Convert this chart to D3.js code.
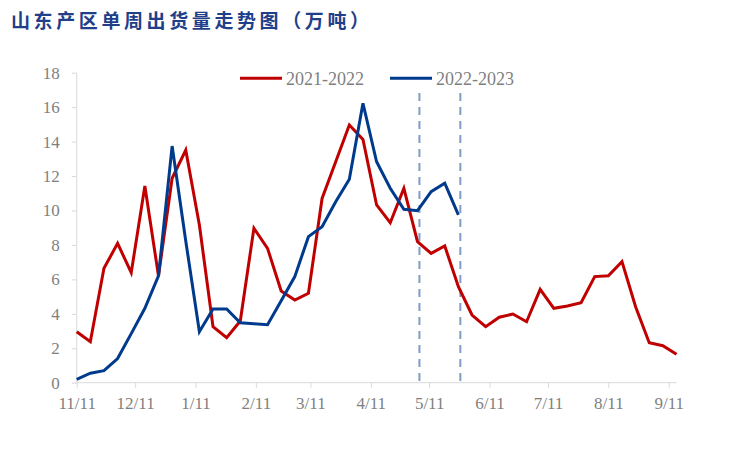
<!DOCTYPE html>
<html><head><meta charset="utf-8">
<script src="https://cdn.jsdelivr.net/npm/d3@7/dist/d3.min.js"></script>
<style>body{margin:0;background:#fff}svg{display:block}</style>
</head><body><svg id="c" width="751" height="451"></svg>
<script>
const title = "山东产区单周出货量走势图（万吨）";
const seriesNames = ["2021-2022", "2022-2023"];
const startDate = "2021-11-11";
const xTickLabels = ["11/11","12/11","1/11","2/11","3/11","4/11","5/11","6/11","7/11","8/11","9/11"];
const xTickDates = ["2021-11-11","2021-12-11","2022-01-11","2022-02-11","2022-03-11","2022-04-11","2022-05-11","2022-06-11","2022-07-11","2022-08-11","2022-09-11"];
const yTicks = [0,2,4,6,8,10,12,14,16,18];
const markerDates = ["2022-05-06","2022-05-27"];
const values2122 = [2.96,2.38,6.64,8.09,6.39,11.42,6.2,11.87,13.51,9.16,3.25,2.61,3.58,8.97,7.8,5.32,4.8,5.19,10.7,12.83,14.96,14.13,10.32,9.29,11.29,8.19,7.51,7.94,5.57,3.93,3.25,3.8,3.99,3.54,5.42,4.32,4.45,4.65,6.16,6.21,7.03,4.41,2.32,2.15,1.65];
const values2223 = [0.2,0.55,0.7,1.4,2.85,4.32,6.2,13.74,8.23,2.96,4.28,4.28,3.48,3.42,3.37,4.76,6.16,8.48,9.06,10.51,11.81,16.22,12.83,11.29,10.07,9.99,11.09,11.58,9.74];
const colors = ["#c00000", "#003a8c"];

const parse = d3.timeParse("%Y-%m-%d");
const t0 = parse(startDate);
const weekDate = i => d3.timeDay.offset(t0, i*7);
const svg = d3.select("#c");
const x = d3.scaleTime().domain([t0, weekDate(values2122.length-1)]).range([76.7, 676.5]);
const y = d3.scaleLinear().domain([0,18]).range([382.7, 72.7]);

const serif = "'Liberation Serif','Times New Roman',serif";
const gray = "#7f7f7f", axisCol = "#d9d9d9";

// title
svg.append("text").attr("x",11).attr("y",28).text(title)
  .attr("font-family","'Noto Sans CJK SC',sans-serif").attr("font-weight","bold")
  .attr("font-size",19).attr("letter-spacing",3.6).attr("fill","#1f3f8a");

// y axis
const yAxis = d3.axisLeft(y).tickValues(yTicks).tickSize(5).tickPadding(12);
const gy = svg.append("g").attr("transform","translate(76.7,0)").call(yAxis);
gy.select(".domain").attr("stroke",axisCol).attr("d","M0,72.7V382.7");
gy.selectAll(".tick line").attr("stroke",axisCol);
gy.selectAll(".tick text").attr("fill",gray).attr("font-family",serif).attr("font-size",17);

// x axis
const xAxis = d3.axisBottom(x).tickValues(xTickDates.map(parse))
  .tickFormat((d,i)=>xTickLabels[i]).tickSize(5).tickPadding(9);
const gx = svg.append("g").attr("transform","translate(0,382.7)").call(xAxis);
gx.select(".domain").attr("stroke",axisCol).attr("d","M76.7,0H676.7");
gx.selectAll(".tick line").attr("stroke",axisCol);
gx.selectAll(".tick text").attr("fill",gray).attr("font-family",serif).attr("font-size",17);

// marker dashed lines
svg.selectAll(".marker").data(markerDates).enter().append("line")
  .attr("x1",d=>x(parse(d))).attr("x2",d=>x(parse(d)))
  .attr("y1",93).attr("y2",382)
  .attr("stroke","#7f9bc6").attr("stroke-width",2).attr("stroke-dasharray","8,6");

// lines
const line = d3.line().x((d,i)=>x(weekDate(i))).y(d=>y(d));
[values2122, values2223].forEach((vals,k)=>{
  svg.append("path").datum(vals).attr("d",line).attr("fill","none")
    .attr("stroke",colors[k]).attr("stroke-width",3).attr("stroke-linejoin","miter");
});

// legend
const leg = [{x:240,name:seriesNames[0],c:colors[0]},{x:390,name:seriesNames[1],c:colors[1]}];
leg.forEach(l=>{
  svg.append("line").attr("x1",l.x).attr("x2",l.x+42).attr("y1",78.3).attr("y2",78.3)
    .attr("stroke",l.c).attr("stroke-width",3);
  svg.append("text").attr("x",l.x+46).attr("y",84.5).text(l.name)
    .attr("fill",gray).attr("font-family",serif).attr("font-size",18);
});
</script></body></html>
